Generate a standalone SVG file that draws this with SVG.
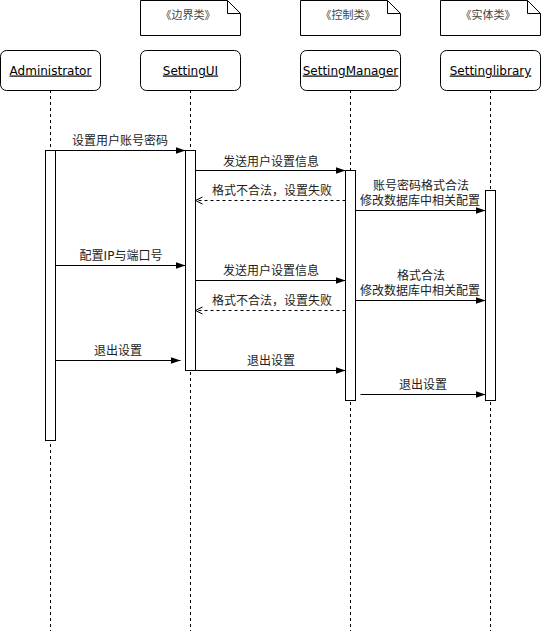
<svg xmlns="http://www.w3.org/2000/svg" width="541" height="631" viewBox="0 0 541 631">
<style>
.box{fill:#fff;stroke:#000;stroke-width:1}
.life{stroke:#000;stroke-width:1;stroke-dasharray:3 3;fill:none}
.act{fill:#fff;stroke:#000;stroke-width:1}
.name{font-family:"DejaVu Sans","Noto Sans CJK SC",sans-serif;font-size:12px;fill:#000;text-anchor:middle;text-decoration:underline}
.note{font-family:"DejaVu Sans","Noto Sans CJK SC",sans-serif;font-size:11px;fill:#444;text-anchor:middle}
.lbl{font-family:"DejaVu Sans","Noto Sans CJK SC",sans-serif;font-size:12px;fill:#222;text-anchor:middle}
.msg{stroke:#000;stroke-width:1;fill:none;marker-end:url(#block)}
.ret{stroke:#000;stroke-width:1;fill:none;stroke-dasharray:3 3;marker-end:url(#open)}
</style>
<defs>
<marker id="block" viewBox="0 0 10 10" refX="10" refY="5" markerWidth="10" markerHeight="10" markerUnits="userSpaceOnUse" orient="auto">
<path d="M0,1.5 L10,5 L0,8.5 Z" fill="#000"/>
</marker>
<marker id="open" viewBox="0 0 10 10" refX="9" refY="5" markerWidth="10" markerHeight="10" markerUnits="userSpaceOnUse" orient="auto">
<path d="M2,1.5 L9,5 L2,8.5" fill="none" stroke="#000" stroke-width="1"/>
</marker>
</defs>
<rect width="541" height="631" fill="#fff"/>

<g id="note-boundary">
<path class="box" d="M140.5,0.5 H227.5 L240.5,13.5 V35.5 H140.5 Z"/>
<path d="M227.5,0.5 V13.5 H240.5" fill="none" stroke="#000"/>
<text class="note" x="188" y="19">《边界类》</text>
</g>
<g id="note-control">
<path class="box" d="M300.5,0.5 H387.5 L400.5,13.5 V35.5 H300.5 Z"/>
<path d="M387.5,0.5 V13.5 H400.5" fill="none" stroke="#000"/>
<text class="note" x="348" y="19">《控制类》</text>
</g>
<g id="note-entity">
<path class="box" d="M440.5,0.5 H527.5 L540.5,13.5 V35.5 H440.5 Z"/>
<path d="M527.5,0.5 V13.5 H540.5" fill="none" stroke="#000"/>
<text class="note" x="488" y="19">《实体类》</text>
</g>

<g id="administrator">
<line class="life" x1="50.5" y1="90" x2="50.5" y2="631"/>
<rect class="box" x="0.5" y="50.5" width="100" height="40" rx="6"/>
<text class="name" x="50.5" y="74.5">Administrator</text>
<rect class="act" x="45.5" y="150.5" width="10" height="290"/>
</g>
<g id="settingui">
<line class="life" x1="190.5" y1="90" x2="190.5" y2="631"/>
<rect class="box" x="140.5" y="50.5" width="100" height="40" rx="6"/>
<text class="name" x="190.5" y="74.5">SettingUI</text>
<rect class="act" x="185.5" y="150.5" width="10" height="220"/>
</g>
<g id="settingmanager">
<line class="life" x1="350.5" y1="90" x2="350.5" y2="631"/>
<rect class="box" x="300.5" y="50.5" width="100" height="40" rx="6"/>
<text class="name" x="350.5" y="74.5">SettingManager</text>
<rect class="act" x="345.5" y="170.5" width="10" height="230"/>
</g>
<g id="settinglibrary">
<line class="life" x1="490.5" y1="90" x2="490.5" y2="631"/>
<rect class="box" x="440.5" y="50.5" width="100" height="40" rx="6"/>
<text class="name" x="490.5" y="74.5">Settinglibrary</text>
<rect class="act" x="485.5" y="190.5" width="10" height="210"/>
</g>

<g id="connectors">
<line class="msg" x1="55.5" y1="150.5" x2="185.5" y2="150.5"/>
<text class="lbl" x="120" y="144.5">设置用户账号密码</text>
<line class="msg" x1="195.5" y1="170.5" x2="345.5" y2="170.5"/>
<text class="lbl" x="271" y="166">发送用户设置信息</text>
<line class="ret" x1="345.5" y1="200.5" x2="195.5" y2="200.5"/>
<text class="lbl" x="272" y="194.5">格式不合法，设置失败</text>
<line class="msg" x1="355.5" y1="210.5" x2="485.5" y2="210.5"/>
<text class="lbl" x="421" y="189.5">账号密码格式合法</text>
<text class="lbl" x="420" y="204.5">修改数据库中相关配置</text>

<line class="msg" x1="55.5" y1="265.5" x2="185.5" y2="265.5"/>
<text class="lbl" x="121" y="259.5">配置IP与端口号</text>
<line class="msg" x1="195.5" y1="280.5" x2="345.5" y2="280.5"/>
<text class="lbl" x="271" y="274.5">发送用户设置信息</text>
<line class="ret" x1="345.5" y1="310.5" x2="195.5" y2="310.5"/>
<text class="lbl" x="272" y="304.5">格式不合法，设置失败</text>
<line class="msg" x1="355.5" y1="300.5" x2="485.5" y2="300.5"/>
<text class="lbl" x="421" y="279.5">格式合法</text>
<text class="lbl" x="420" y="294.5">修改数据库中相关配置</text>

<line class="msg" x1="55.5" y1="360.5" x2="180.5" y2="360.5"/>
<text class="lbl" x="118" y="354.5">退出设置</text>
<line class="msg" x1="195.5" y1="370.5" x2="345.5" y2="370.5"/>
<text class="lbl" x="271" y="364.5">退出设置</text>
<line class="msg" x1="360.5" y1="394.5" x2="485.5" y2="394.5"/>
<text class="lbl" x="423" y="388.5">退出设置</text>
</g>
</svg>
